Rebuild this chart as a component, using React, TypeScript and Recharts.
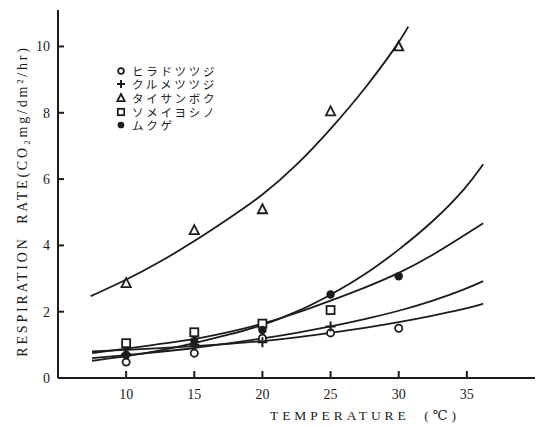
import { ComposedChart, Line, Scatter, XAxis, YAxis, Legend, Label } from 'recharts';

const INK = '#1c1c1c';
const SERIF = '"Liberation Serif", "DejaVu Serif", serif';
const JP = '"Noto Sans CJK JP", "Noto Sans", sans-serif';

// measured temperatures (°C)
const temps = [10, 15, 20, 25, 30];

// respiration rate (CO2 mg/dm2/hr)
const hiradoTsutsuji = [0.48, 0.75, 1.2, 1.36, 1.5];
const kurumeTsutsuji = [0.72, 1.0, 1.08, 1.55];
const taisanboku = [2.86, 4.46, 5.09, 8.04, 10.0];
const someiYoshino = [1.05, 1.38, 1.64, 2.05];
const mukuge = [0.7, 1.12, 1.45, 2.52, 3.07];

const seriesNames = ['ヒラドツツジ', 'クルメツツジ', 'タイサンボク', 'ソメイヨシノ', 'ムクゲ'];
const markerKinds = ['circle', 'plus', 'triangle', 'square', 'dot'];
const seriesValues = [hiradoTsutsuji, kurumeTsutsuji, taisanboku, someiYoshino, mukuge];

// fitted curves
const curveTemps = [7.5, 10, 12.5, 15, 17.5, 20, 22.5, 25, 27.5, 30, 32.5, 35, 36.2];
const curveSteep = [0.52, 0.65, 0.83, 1.05, 1.3, 1.58, 1.98, 2.5, 3.1, 3.86, 4.7, 5.75, 6.45];
const curveSecond = [0.75, 0.88, 1.03, 1.17, 1.38, 1.63, 1.95, 2.33, 2.72, 3.15, 3.7, 4.35, 4.67];
const curveThird = [0.6, 0.69, 0.79, 0.9, 1.04, 1.19, 1.36, 1.55, 1.77, 2.02, 2.32, 2.7, 2.92];
const curveFlat = [0.8, 0.85, 0.9, 0.96, 1.03, 1.11, 1.22, 1.36, 1.51, 1.68, 1.88, 2.1, 2.24];

const taiCurveTemps = [7.4, 10, 12.5, 15, 17.5, 20, 22.5, 25, 27.5, 30, 30.7];
const taiCurve = [2.47, 2.95, 3.5, 4.12, 4.8, 5.5, 6.4, 7.5, 8.7, 10.1, 10.6];

const xTicks = [10, 15, 20, 25, 30, 35];
const yTicks = [0, 2, 4, 6, 8, 10];

const zip = (xs: number[], ys: number[]) => ys.map((y, i) => ({ x: xs[i], y }));

const lowerCurves = [curveSteep, curveSecond, curveThird, curveFlat];

const Marker = ({ cx, cy, kind, s = 1 }: any) => {
  if (cx == null || cy == null) return null;
  switch (kind) {
    case 'circle':
      return <circle cx={cx} cy={cy} r={3.6 * s} fill="#fff" stroke={INK} strokeWidth={1.8} />;
    case 'plus':
      return (
        <path
          d={`M${cx - 5 * s},${cy}H${cx + 5 * s}M${cx},${cy - 5 * s}V${cy + 5 * s}`}
          stroke={INK}
          strokeWidth={2}
        />
      );
    case 'triangle':
      return (
        <path
          d={`M${cx},${cy - 5 * s}L${cx + 4.6 * s},${cy + 4 * s}L${cx - 4.6 * s},${cy + 4 * s}Z`}
          fill="#fff"
          stroke={INK}
          strokeWidth={1.8}
        />
      );
    case 'square':
      return (
        <rect x={cx - 4 * s} y={cy - 4 * s} width={8 * s} height={8 * s} fill="#fff" stroke={INK} strokeWidth={1.8} />
      );
    default:
      return <circle cx={cx} cy={cy} r={4.2 * s} fill={INK} />;
  }
};

const YTick = ({ x, y, payload }: any) => (
  <g>
    <line x1={x} y1={y} x2={x + 6} y2={y} stroke={INK} strokeWidth={2} />
    <text x={x - 8} y={y + 5} textAnchor="end" fontFamily={SERIF} fontSize={14} fill={INK}>
      {payload.value}
    </text>
  </g>
);

const XTick = ({ x, y, payload }: any) => (
  <g>
    <line x1={x} y1={y} x2={x} y2={y - 7} stroke={INK} strokeWidth={2} />
    <text x={x} y={y + 21} textAnchor="middle" fontFamily={SERIF} fontSize={14} fill={INK}>
      {payload.value}
    </text>
  </g>
);

const YLabel = ({ viewBox }: any) => {
  const cx = viewBox.x + 22;
  const cy = viewBox.y + viewBox.height / 2 + 7;
  return (
    <text
      x={cx}
      y={cy}
      transform={`rotate(-90 ${cx} ${cy})`}
      textAnchor="middle"
      dominantBaseline="central"
      fontFamily={SERIF}
      fontSize={14}
      letterSpacing={2.8}
      fill={INK}
    >
      RESPIRATION&#160;&#160;RATE(CO₂mg/dm²/hr)
    </text>
  );
};

const XLabel = ({ viewBox }: any) => (
  <text
    x={viewBox.x + 212}
    y={viewBox.y + 42}
    textAnchor="start"
    fontFamily={SERIF}
    fontSize={13.5}
    letterSpacing={3.9}
    fill={INK}
  >
    TEMPERATURE&#160;&#160;(℃)
  </text>
);

const LegendBox = () => (
  <div style={{ fontFamily: JP, fontSize: 11.5, color: INK }}>
    {seriesNames.map((name, i) => (
      <div key={name} style={{ display: 'flex', alignItems: 'center', height: 13.6, overflow: 'visible' }}>
        <svg width={12} height={12} style={{ marginRight: 5, flex: 'none' }}>
          <Marker cx={6} cy={6} kind={markerKinds[i]} s={0.8} />
        </svg>
        <span style={{ letterSpacing: 2.7, lineHeight: '12px', display: 'block' }}>{name}</span>
      </div>
    ))}
  </div>
);

export default function App() {
  return (
    <div style={{ position: 'absolute', left: 0, top: 0, width: 536, height: 427, background: '#fff' }}>
      <ComposedChart width={536} height={427} margin={{ top: 10, right: 1, bottom: 0, left: 0 }}>
        <XAxis
          dataKey="x"
          type="number"
          domain={[5, 40]}
          ticks={xTicks}
          allowDataOverflow
          height={49}
          tickSize={0}
          tickMargin={0}
          tickLine={false}
          tick={<XTick />}
          axisLine={{ stroke: INK, strokeWidth: 2 }}
        >
          <Label content={<XLabel />} />
        </XAxis>
        <YAxis
          type="number"
          domain={[0, 11.1]}
          ticks={yTicks}
          allowDataOverflow
          width={58}
          tickSize={0}
          tickMargin={0}
          tickLine={false}
          tick={<YTick />}
          axisLine={{ stroke: INK, strokeWidth: 2 }}
        >
          <Label content={<YLabel />} />
        </YAxis>
        <Legend
          layout="vertical"
          align="center"
          verticalAlign="middle"
          content={<LegendBox />}
          wrapperStyle={{ position: 'absolute', left: 115, top: 64, width: 150 }}
        />
        <Line
          data={zip(taiCurveTemps, taiCurve)}
          dataKey="y"
          type="basis"
          stroke={INK}
          strokeWidth={1.8}
          dot={false}
          legendType="none"
          isAnimationActive={false}
        />
        {lowerCurves.map((c, i) => (
          <Line
            key={`curve-${i}`}
            data={zip(curveTemps, c)}
            dataKey="y"
            type="basis"
            stroke={INK}
            strokeWidth={1.8}
            dot={false}
            legendType="none"
            isAnimationActive={false}
          />
        ))}
        {seriesValues.map((vals, i) => (
          <Scatter
            key={seriesNames[i]}
            name={seriesNames[i]}
            data={zip(temps, vals)}
            dataKey="y"
            shape={(p: any) => <Marker cx={p.cx} cy={p.cy} kind={markerKinds[i]} />}
            isAnimationActive={false}
          />
        ))}
      </ComposedChart>
    </div>
  );
}
